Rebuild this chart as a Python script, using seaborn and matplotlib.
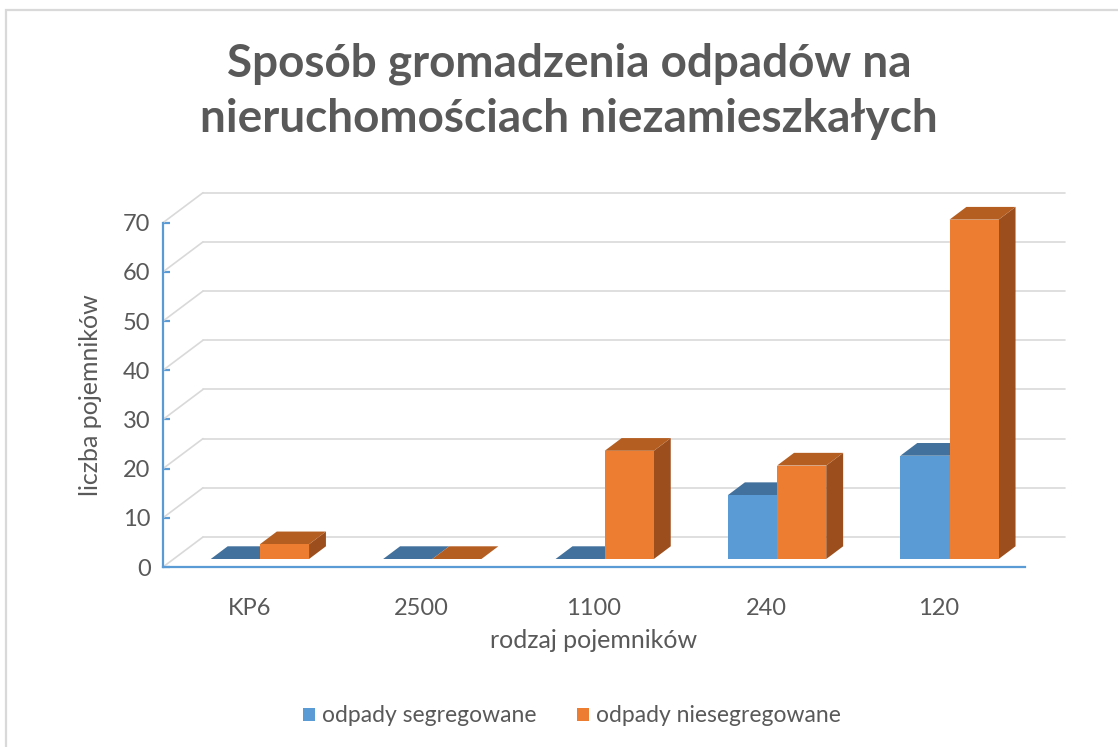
import numpy as np
import pandas as pd
import matplotlib
matplotlib.use("Agg")
import matplotlib.pyplot as plt
import seaborn as sns
from matplotlib.patches import Polygon, Rectangle, Patch
from matplotlib.lines import Line2D

# ---- data ----
categories = ["KP6", "2500", "1100", "240", "120"]
segregowane = [0, 0, 0, 13, 21]
niesegregowane = [3, 0, 22, 19, 69]
series_names = ["odpady segregowane", "odpady niesegregowane"]
y_ticks = [0, 10, 20, 30, 40, 50, 60, 70]
title = "Sposób gromadzenia odpadów na\nnieruchomościach niezamieszkałych"
x_label = "rodzaj pojemników"
y_label = "liczba pojemników"

df = pd.DataFrame({
    "rodzaj": categories * 2,
    "liczba": segregowane + niesegregowane,
    "seria": [series_names[0]] * len(categories) + [series_names[1]] * len(categories),
})

FRONT = {series_names[0]: "#5B9BD5", series_names[1]: "#ED7D31"}
TOP = ["#41719C", "#B55E22"]
SIDE = ["#3D6A94", "#9C4F1D"]
TEXT = "#595959"
GRID = "#D9D9D9"
AXIS = "#5B9BD5"

sns.set_theme(style="white")
plt.rcParams["font.family"] = ["Lato", "DejaVu Sans"]

W, H = 1118, 747
fig = plt.figure(figsize=(W / 100, H / 100), dpi=100)
ax_l, ax_r, ax_b, ax_t = 163, 1025, 567, 222.7
ax = fig.add_axes([ax_l / W, 1 - ax_b / H, (ax_r - ax_l) / W, (ax_b - ax_t) / H])

sns.barplot(data=df, x="rodzaj", y="liczba", hue="seria", palette=FRONT,
            width=0.57, saturation=1, ax=ax, legend=False)
ax.set_xlim(-0.5, len(categories) - 0.5)
ax.set_ylim(0, max(y_ticks))
ax.set_yticks(y_ticks)

# pixel -> data conversions
sx = (ax_r - ax_l) / len(categories)
sy = (ax_b - ax_t) / max(y_ticks)
DXd, DYd = 40 / sx, 30 / sy          # full depth of the 3D box
fdx, fdy = 10.7 / sx, 8 / sy          # front face offset of bars
bdx, bdy = 16.9 / sx, 12.7 / sy       # depth of the bars

# back wall + left wall grid
x0g, x1g = -0.5, len(categories) - 0.5
for v in y_ticks:
    ax.add_line(Line2D([x0g + DXd, x1g + DXd], [v + DYd, v + DYd], color=GRID,
                       lw=1.2, zorder=1, clip_on=False))
    ax.add_line(Line2D([x0g, x0g + DXd], [v, v + DYd], color=GRID,
                       lw=1.2, zorder=1, clip_on=False))

# turn flat bars into 3D boxes
n = len(categories)
bars = list(ax.patches)
for k, p in enumerate(bars):
    j = k // n
    i = k % n
    z = 3 + i * 0.1 + j * 0.05
    x0 = p.get_x() + fdx
    w = p.get_width()
    h = p.get_height()
    x1 = x0 + w
    y0 = fdy
    y1 = fdy + h
    p.set_x(x0)
    p.set_y(y0)
    p.set_clip_on(False)
    p.set_zorder(z + 0.02)
    p.set_edgecolor("none")
    top = Polygon([(x0, y1), (x1, y1), (x1 + bdx, y1 + bdy), (x0 + bdx, y1 + bdy)],
                  closed=True, facecolor=TOP[j], edgecolor="none", zorder=z, clip_on=False)
    side = Polygon([(x1, y0), (x1 + bdx, y0 + bdy), (x1 + bdx, y1 + bdy), (x1, y1)],
                   closed=True, facecolor=SIDE[j], edgecolor="none", zorder=z, clip_on=False)
    ax.add_patch(side)
    ax.add_patch(top)

# spines & ticks
for s in ["top", "right"]:
    ax.spines[s].set_visible(False)
for s in ["left", "bottom"]:
    ax.spines[s].set_color(AXIS)
    ax.spines[s].set_linewidth(1.6)
    ax.spines[s].set_zorder(10)
ax.tick_params(axis="y", direction="in", length=5, width=1.6, color=AXIS,
               labelsize=17, labelcolor=TEXT, pad=9, left=True)
ax.tick_params(axis="x", length=0, labelsize=17, labelcolor=TEXT, pad=22)
ax.set_facecolor("none")
ax.set_xlabel(x_label, fontsize=18, color=TEXT)
ax.set_ylabel(y_label, fontsize=18, color=TEXT)
ax.xaxis.set_label_coords(0.5, -(641 - ax_b) / (ax_b - ax_t))
ax.xaxis.label.set_va("center")
ax.yaxis.set_label_coords((90 - ax_l) / (ax_r - ax_l), (ax_b - 395) / (ax_b - ax_t))
ax.yaxis.label.set_va("center")

# title
fig.text(569 / W, 1 - 91 / H, title, ha="center", va="center", fontsize=33,
         fontweight="bold", color=TEXT, linespacing=1.38)

# legend
handles = [Patch(facecolor=FRONT[s], edgecolor="none", label=s) for s in series_names]
fig.legend(handles=handles, loc="center", bbox_to_anchor=(572 / W, 1 - 716 / H), ncol=2,
           frameon=False, fontsize=16.5, labelcolor=TEXT, handlelength=0.5,
           handleheight=0.5, handletextpad=0.3, columnspacing=1.8)

# chart-area border (partly cropped in the reference)
fig.patches.append(Rectangle((6 / W, -0.2), 1.2, 0.2 + (H - 10) / H, transform=fig.transFigure,
                             fill=False, edgecolor=GRID, lw=1.6, zorder=0))

fig.savefig("out.png", dpi=100)
